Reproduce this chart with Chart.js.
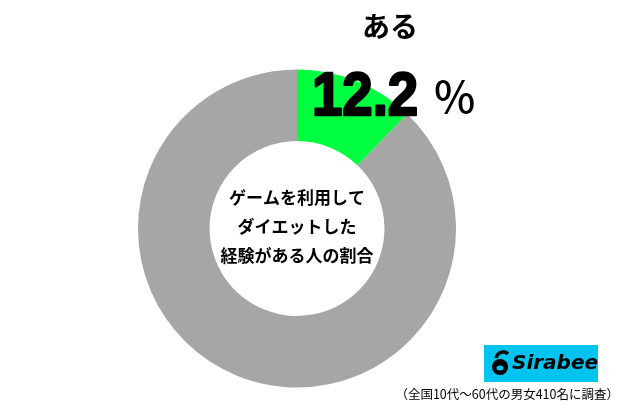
<!DOCTYPE html>
<html>
<head>
<meta charset="utf-8">
<script src="https://cdn.jsdelivr.net/npm/chart.js@4/dist/chart.umd.min.js"></script>
<style>
	html, body { margin: 0; padding: 0; background: #fff; }
	#wrap { width: 621px; height: 410px; position: relative; }
</style>
</head>
<body>
<div id="wrap"><canvas id="donut" width="621" height="410"></canvas></div>
<script>
const labels = ['ある', 'ない'];
const values = [12.2, 87.8];
const colors = ['#00ff40', '#a6a6a6'];
const centerLines = ['ゲームを利用して', 'ダイエットした', '経験がある人の割合'];
const note = '（全国10代～60代の男女410名に調査）';

const jp = '"Noto Sans CJK JP", "Noto Sans", sans-serif';

// texts, logo and footnote drawn on top of the donut
const overlay = {
	id: 'overlay',
	afterDraw(chart) {
		const ctx = chart.ctx;
		const meta = chart.getDatasetMeta(0);
		const arc = meta.data[0];
		const cx = arc.x;
		const cy = arc.y;
		ctx.save();
		ctx.fillStyle = '#000';
		ctx.textBaseline = 'middle';

		// label of the green slice
		ctx.textAlign = 'center';
		ctx.font = 'bold 28px ' + jp;
		ctx.fillText(labels[0], 390, 26);

		// big percentage, heavy and slightly condensed
		ctx.textAlign = 'left';
		ctx.textBaseline = 'alphabetic';
		ctx.font = 'bold 62px "Liberation Sans", Arial, sans-serif';
		const num = values[0].toFixed(1);
		ctx.save();
		ctx.translate(312, 115);
		ctx.scale(0.88, 1);
		ctx.lineWidth = 2.5;
		ctx.strokeStyle = '#000';
		ctx.lineJoin = 'round';
		ctx.strokeText(num, 0, 0);
		ctx.fillText(num, 0, 0);
		ctx.restore();
		ctx.font = '500 44px ' + jp;
		ctx.textBaseline = 'middle';
		ctx.fillText('%', 434, 96);

		// centre text
		ctx.textAlign = 'center';
		ctx.font = 'bold 17px ' + jp;
		centerLines.forEach((line, i) => {
			ctx.fillText(line, cx, cy - 31 + i * 29);
		});

		// logo box
		ctx.fillStyle = '#00c3f0';
		ctx.fillRect(484, 345, 114, 37);
		ctx.fillStyle = '#000';
		ctx.beginPath();
		ctx.arc(500, 367, 8, 0, Math.PI * 2);
		ctx.fill();
		ctx.lineWidth = 3.5;
		ctx.strokeStyle = '#000';
		ctx.beginPath();
		ctx.arc(503, 359, 7, Math.PI * 1.05, Math.PI * 1.75);
		ctx.stroke();
		ctx.fillStyle = '#00c3f0';
		ctx.beginPath();
		ctx.ellipse(500, 368, 3.5, 2.5, 0, 0, Math.PI * 2);
		ctx.fill();
		ctx.fillStyle = '#000';
		ctx.font = 'italic bold 20px "DejaVu Sans", sans-serif';
		ctx.textAlign = 'left';
		ctx.fillText('Sirabee', 512, 364);

		// footnote
		ctx.textAlign = 'right';
		ctx.font = '12.5px ' + jp;
		ctx.fillText(note, 619, 394);
		ctx.restore();
	},
};

new Chart(document.getElementById('donut'), {
	type: 'doughnut',
	data: {
		labels: labels,
		datasets: [
			{
				data: values,
				backgroundColor: colors,
				borderWidth: 0,
				hoverOffset: 0,
			},
		],
	},
	options: {
		responsive: false,
		animation: false,
		cutout: '55%',
		layout: {
			padding: { left: 138, right: 165, top: 69, bottom: 22 },
		},
		plugins: {
			legend: { display: false },
			tooltip: { enabled: false },
		},
	},
	plugins: [overlay],
});
</script>
</body>
</html>
